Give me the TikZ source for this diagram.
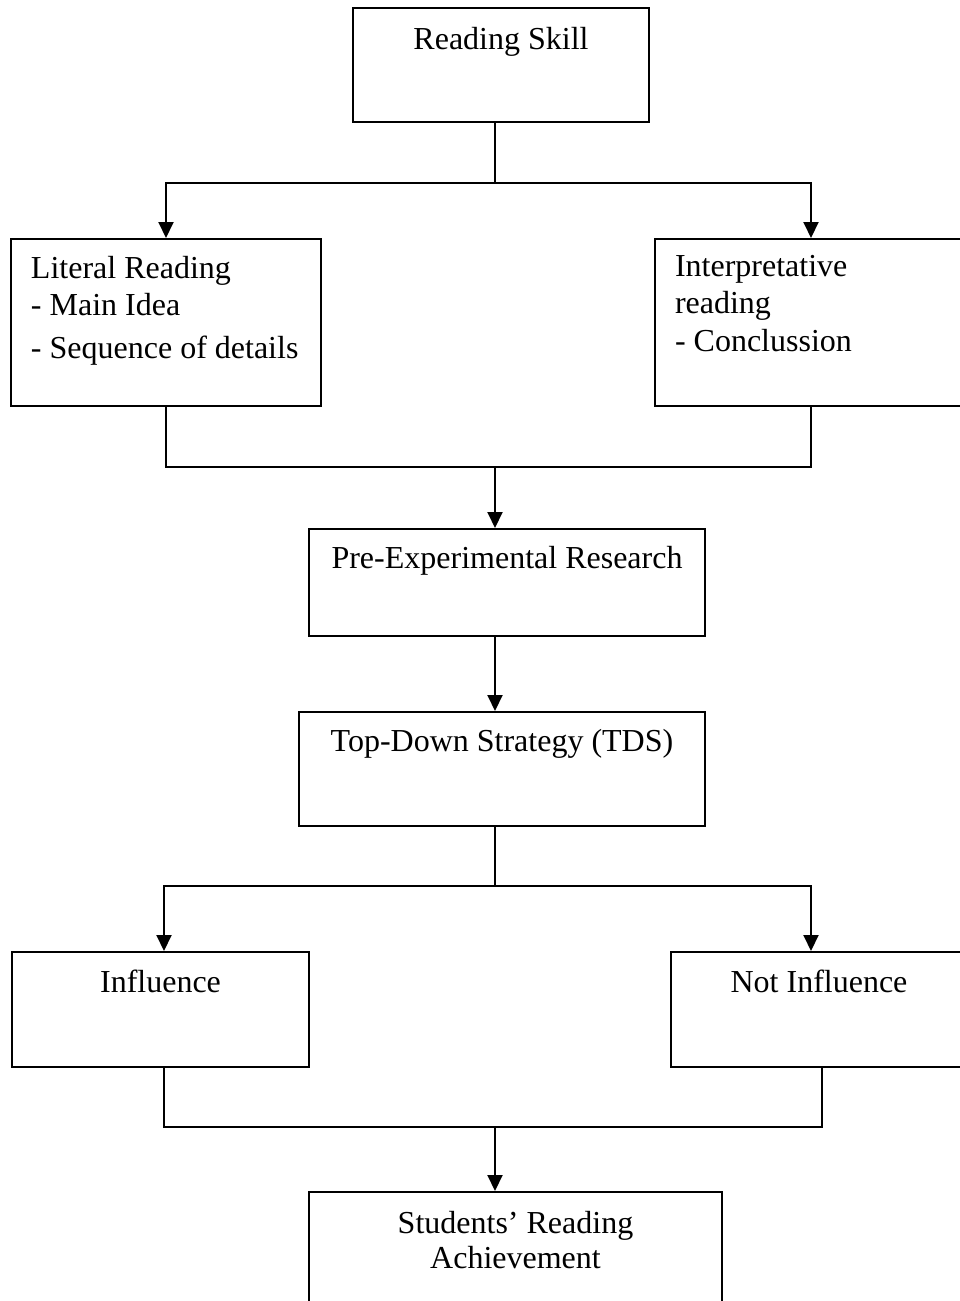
\documentclass[tikz,border=0pt]{standalone}
\usepackage{fontspec}
\setmainfont{Liberation Serif}
\usetikzlibrary{arrows.meta}

\begin{document}
\begin{tikzpicture}[x=.5pt,y=-.5pt,line width=1pt,
    box/.style={draw,inner sep=0pt},
    txt/.style={inner sep=0pt,font=\fontsize{16}{18.5}\selectfont},
    flow/.style={-{Triangle[width=7.5pt,length=8pt]}}]
  \useasboundingbox (0,0) rectangle (959,1301);

  % boxes
  \node[box,minimum width=148pt,minimum height=57pt] (skill) at (501,65) {};
  \node[box,minimum width=155pt,minimum height=83.5pt] (literal) at (166,322.5) {};
  \node[box,minimum width=156pt,minimum height=83.5pt] (interp) at (811,322.5) {};
  \node[box,minimum width=198pt,minimum height=53.5pt] (preexp) at (507,582.5) {};
  \node[box,minimum width=203pt,minimum height=57pt] (tds) at (502,769) {};
  \node[box,minimum width=148.5pt,minimum height=57.5pt] (infl) at (160.5,1009.5) {};
  \node[box,minimum width=148pt,minimum height=57.5pt] (notinfl) at (819,1009.5) {};
  \node[box,minimum width=206.5pt,minimum height=57pt] (achieve) at (515.5,1249) {};

  % texts
  \node[txt,anchor=base] (skilltxt) at ([yshift=-21pt]skill.north) {Reading Skill};
  \node[txt,align=left,anchor=north west] (literaltxt)
    at ([xshift=10pt,yshift=-8.6pt]literal.north west)
    {Literal Reading\\- Main Idea\\[3pt]- Sequence of details};
  \node[txt,align=left,anchor=north west] (interptxt)
    at ([xshift=10pt,yshift=-8.4pt]interp.north west)
    {Interpretative\\reading\\[0.5pt]- Conclussion};
  \node[txt,anchor=base] (preexptxt) at ([yshift=-20pt]preexp.north) {Pre-Experimental Research};
  \node[txt,anchor=base] (tdstxt) at ([yshift=-20pt]tds.north) {Top-Down Strategy (TDS)};
  \node[txt,anchor=base] (infltxt) at ([yshift=-20.5pt]infl.north) {Influence};
  \node[txt,anchor=base] (notinfltxt) at ([yshift=-20.5pt]notinfl.north) {Not Influence};
  \node[txt,align=center,anchor=north] (achievetxt)
    at ([yshift=-9.6pt]achieve.north)
    {Students’ Reading\\[-1pt]Achievement};

  % connectors
  \coordinate (s1) at (495,183);
  \draw (skill.south -| s1) -- (s1);
  \draw[flow] (s1) -| (literal.north);
  \draw[flow] (s1) -| (interp.north);

  \coordinate (s2) at (495,467);
  \draw (literal.south) |- (s2) -| (interp.south);
  \draw[flow] (s2) -- (s2 |- preexp.north);
  \draw[flow] (s2 |- preexp.south) -- (s2 |- tds.north);

  \coordinate (s3) at (495,886);
  \draw (s3 |- tds.south) -- (s3);
  \draw[flow] (s3) -| ([xshift=1.75pt]infl.north);
  \draw[flow] (s3) -| ([xshift=-4pt]notinfl.north);

  \coordinate (s4) at (495,1127);
  \draw ([xshift=1.75pt]infl.south) |- (s4) -| ([xshift=1.5pt]notinfl.south);
  \draw[flow] (s4) -- (s4 |- achieve.north);
\end{tikzpicture}
\end{document}
